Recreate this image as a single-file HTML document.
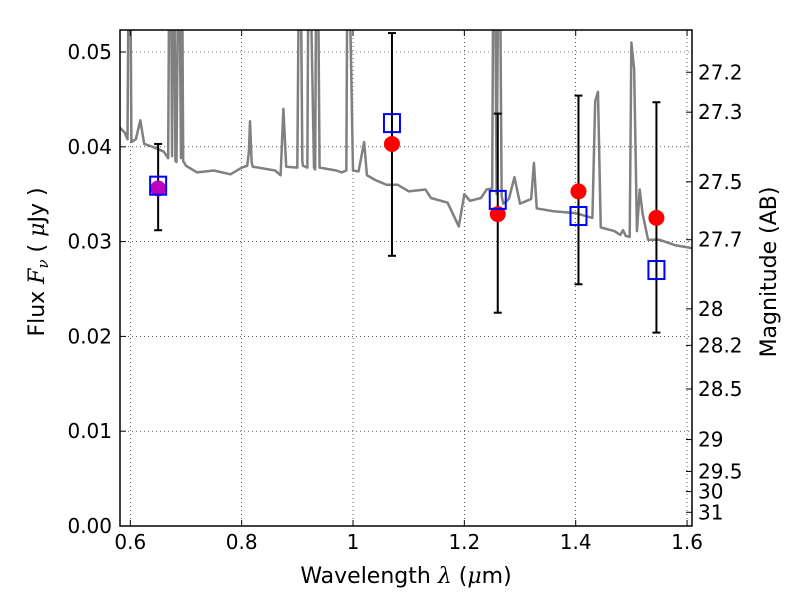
<!DOCTYPE html>
<html><head><meta charset="utf-8"><style>
html,body{margin:0;padding:0;background:#fff;}
svg{display:block;font-family:"DejaVu Sans","Liberation Sans",sans-serif;}
</style></head><body>
<svg id="chart" width="800" height="600"></svg>
<script>
const specWl=[0.58,0.59,0.595,0.597,0.600,0.602,0.61,0.618,0.625,0.64,0.66,0.668,0.670,0.673,0.675,0.677,0.679,0.681,0.683,0.686,0.688,0.691,0.693,0.695,0.70,0.72,0.75,0.78,0.80,0.81,0.813,0.815,0.818,0.82,0.86,0.87,0.875,0.88,0.90,0.903,0.906,0.909,0.91,0.918,0.920,0.923,0.93,0.932,0.934,0.937,0.94,0.97,0.98,0.988,0.990,0.993,1.0,1.01,1.02,1.025,1.04,1.06,1.08,1.10,1.13,1.14,1.17,1.19,1.20,1.21,1.23,1.24,1.25,1.252,1.255,1.258,1.261,1.264,1.267,1.27,1.28,1.29,1.30,1.32,1.325,1.33,1.36,1.40,1.43,1.435,1.44,1.445,1.47,1.48,1.485,1.49,1.497,1.50,1.505,1.51,1.515,1.52,1.53,1.55,1.58,1.60,1.61];
const specFlux=[0.0421,0.0415,0.0408,0.06,0.06,0.0405,0.0408,0.0428,0.0403,0.0400,0.0395,0.0388,0.06,0.06,0.039,0.06,0.06,0.0385,0.0384,0.06,0.06,0.0388,0.06,0.0385,0.0380,0.0373,0.0375,0.0371,0.0378,0.0380,0.0395,0.0427,0.0383,0.0379,0.0375,0.0370,0.0440,0.0379,0.0378,0.060,0.060,0.0385,0.0380,0.0378,0.060,0.060,0.0378,0.0376,0.060,0.060,0.0378,0.0375,0.0373,0.0375,0.060,0.060,0.0375,0.0374,0.0405,0.0370,0.0365,0.0360,0.0360,0.0353,0.0355,0.0346,0.0341,0.0316,0.0350,0.0343,0.0346,0.0355,0.0356,0.060,0.060,0.0350,0.060,0.060,0.0348,0.0340,0.0345,0.0368,0.0340,0.0345,0.0383,0.0335,0.0332,0.0330,0.0325,0.0448,0.0458,0.0315,0.0311,0.0307,0.0312,0.0306,0.0305,0.0510,0.0482,0.0311,0.0355,0.0330,0.0302,0.0302,0.0296,0.0294,0.0293];
const photWl=[0.65,1.07,1.26,1.405,1.545];
const modelFlux=[0.0356,0.0403,0.0329,0.0353,0.0325];
const obsFlux=[0.0359,0.0425,0.0344,0.0327,0.0270];
const errLow=[0.0312,0.0285,0.0225,0.0255,0.0204];
const errHigh=[0.0403,0.0520,0.0435,0.0454,0.0447];
const xTicks=[0.6,0.8,1.0,1.2,1.4,1.6];
const xTickLabels=["0.6","0.8","1","1.2","1.4","1.6"];
const yTicks=[0,0.01,0.02,0.03,0.04,0.05];
const yTickLabels=["0.00","0.01","0.02","0.03","0.04","0.05"];
const magTicks=[27.2,27.3,27.5,27.7,28,28.2,28.5,29,29.5,30,31];

const L=120,R=692,T=30,B=526;
const xMin=0.5815,xMax=1.6089,yMin=0,yMax=(B-T)/9480;
const X=v=>L+(v-xMin)/(xMax-xMin)*(R-L);
const Y=v=>B-(v-yMin)/(yMax-yMin)*(B-T);
const magToFlux=m=>Math.pow(10,(23.9-m)/2.5);
const NS="http://www.w3.org/2000/svg";
const svg=document.getElementById('chart');
function mk(tag,attrs,parent){const e=document.createElementNS(NS,tag);for(const k in attrs)e.setAttribute(k,attrs[k]);(parent||svg).appendChild(e);return e;}

const defs=mk('defs',{});
const cp=mk('clipPath',{id:'pc'},defs);
mk('rect',{x:L,y:T,width:R-L,height:B-T},cp);

const grid=mk('g',{});


xTicks.forEach(v=>{mk('line',{x1:X(v),x2:X(v),y1:T,y2:B,stroke:'#000','stroke-width':0.6,'stroke-dasharray':'1,3'},grid);});
yTicks.forEach(v=>{mk('line',{x1:L,x2:R,y1:Y(v),y2:Y(v),stroke:'#000','stroke-width':0.6,'stroke-dasharray':'1,3'},grid);});

const sp=mk('polyline',{points:specWl.map((w,i)=>X(w)+','+Y(specFlux[i])).join(' '),fill:'none',stroke:'#808080','stroke-width':2.5,'stroke-linejoin':'round','clip-path':'url(#pc)'});



photWl.forEach((w,i)=>{
  const g=mk('g',{});
  
  
  mk('line',{x1:X(w),x2:X(w),y1:Y(errLow[i]),y2:Y(errHigh[i]),stroke:'#000','stroke-width':2},g);
  mk('line',{x1:X(w)-4,x2:X(w)+4,y1:Y(errLow[i]),y2:Y(errLow[i]),stroke:'#000','stroke-width':2},g);
  mk('line',{x1:X(w)-4,x2:X(w)+4,y1:Y(errHigh[i]),y2:Y(errHigh[i]),stroke:'#000','stroke-width':2},g);
});
photWl.forEach((w,i)=>{
  const c=mk('circle',{cx:X(w),cy:Y(modelFlux[i]),r:8,fill:i===0?'#bf00bf':'#f00'});
  
  
});
photWl.forEach((w,i)=>{
  const s=mk('rect',{x:X(w)-8,y:Y(obsFlux[i])-9,width:16,height:18,fill:'none',stroke:'#00f','stroke-width':2});
  
  
});

const fr=mk('rect',{x:L,y:T,width:R-L,height:B-T,fill:'none',stroke:'#000','stroke-width':1.5});



xTicks.forEach((v,i)=>{
  mk('line',{x1:X(v),x2:X(v),y1:B,y2:B-6,stroke:'#000'});
  mk('line',{x1:X(v),x2:X(v),y1:T,y2:T+6,stroke:'#000'});
  const t=mk('text',{x:X(v),y:B+23,'text-anchor':'middle','font-size':20});
  t.textContent=xTickLabels[i];
  
  
});
yTicks.forEach((v,i)=>{
  mk('line',{x1:L,x2:L+6,y1:Y(v),y2:Y(v),stroke:'#000'});
  const t=mk('text',{x:L-8,y:Y(v)+7,'text-anchor':'end','font-size':20});
  t.textContent=yTickLabels[i];
  
  
});
magTicks.forEach(m=>{
  const y=Y(magToFlux(m));
  mk('line',{x1:R,x2:R-6,y1:y,y2:y,stroke:'#000'});
  const t=mk('text',{x:R+6,y:y+7,'font-size':20});
  t.textContent=String(m);
  
  
});
</script>
<svg width="800" height="600" style="position:absolute;left:0;top:0;font-family:'DejaVu Sans','Liberation Sans',sans-serif;">
<text x="406" y="583" text-anchor="middle" font-size="22">Wavelength  <tspan font-style="italic" font-family="DejaVu Serif, serif">λ</tspan> (<tspan font-style="italic" font-family="DejaVu Serif, serif">μ</tspan>m)</text>
<text transform="translate(44,262) rotate(-90)" text-anchor="middle" font-size="22">Flux  <tspan font-style="italic" font-family="DejaVu Serif, serif">F<tspan font-size="15" dy="4">ν</tspan></tspan><tspan dy="-4">  ( </tspan><tspan font-style="italic" font-family="DejaVu Serif, serif">μ</tspan>Jy )</text>
<text transform="translate(776,272) rotate(-90)" text-anchor="middle" font-size="22">Magnitude (AB)</text>
</svg>
</body></html>
